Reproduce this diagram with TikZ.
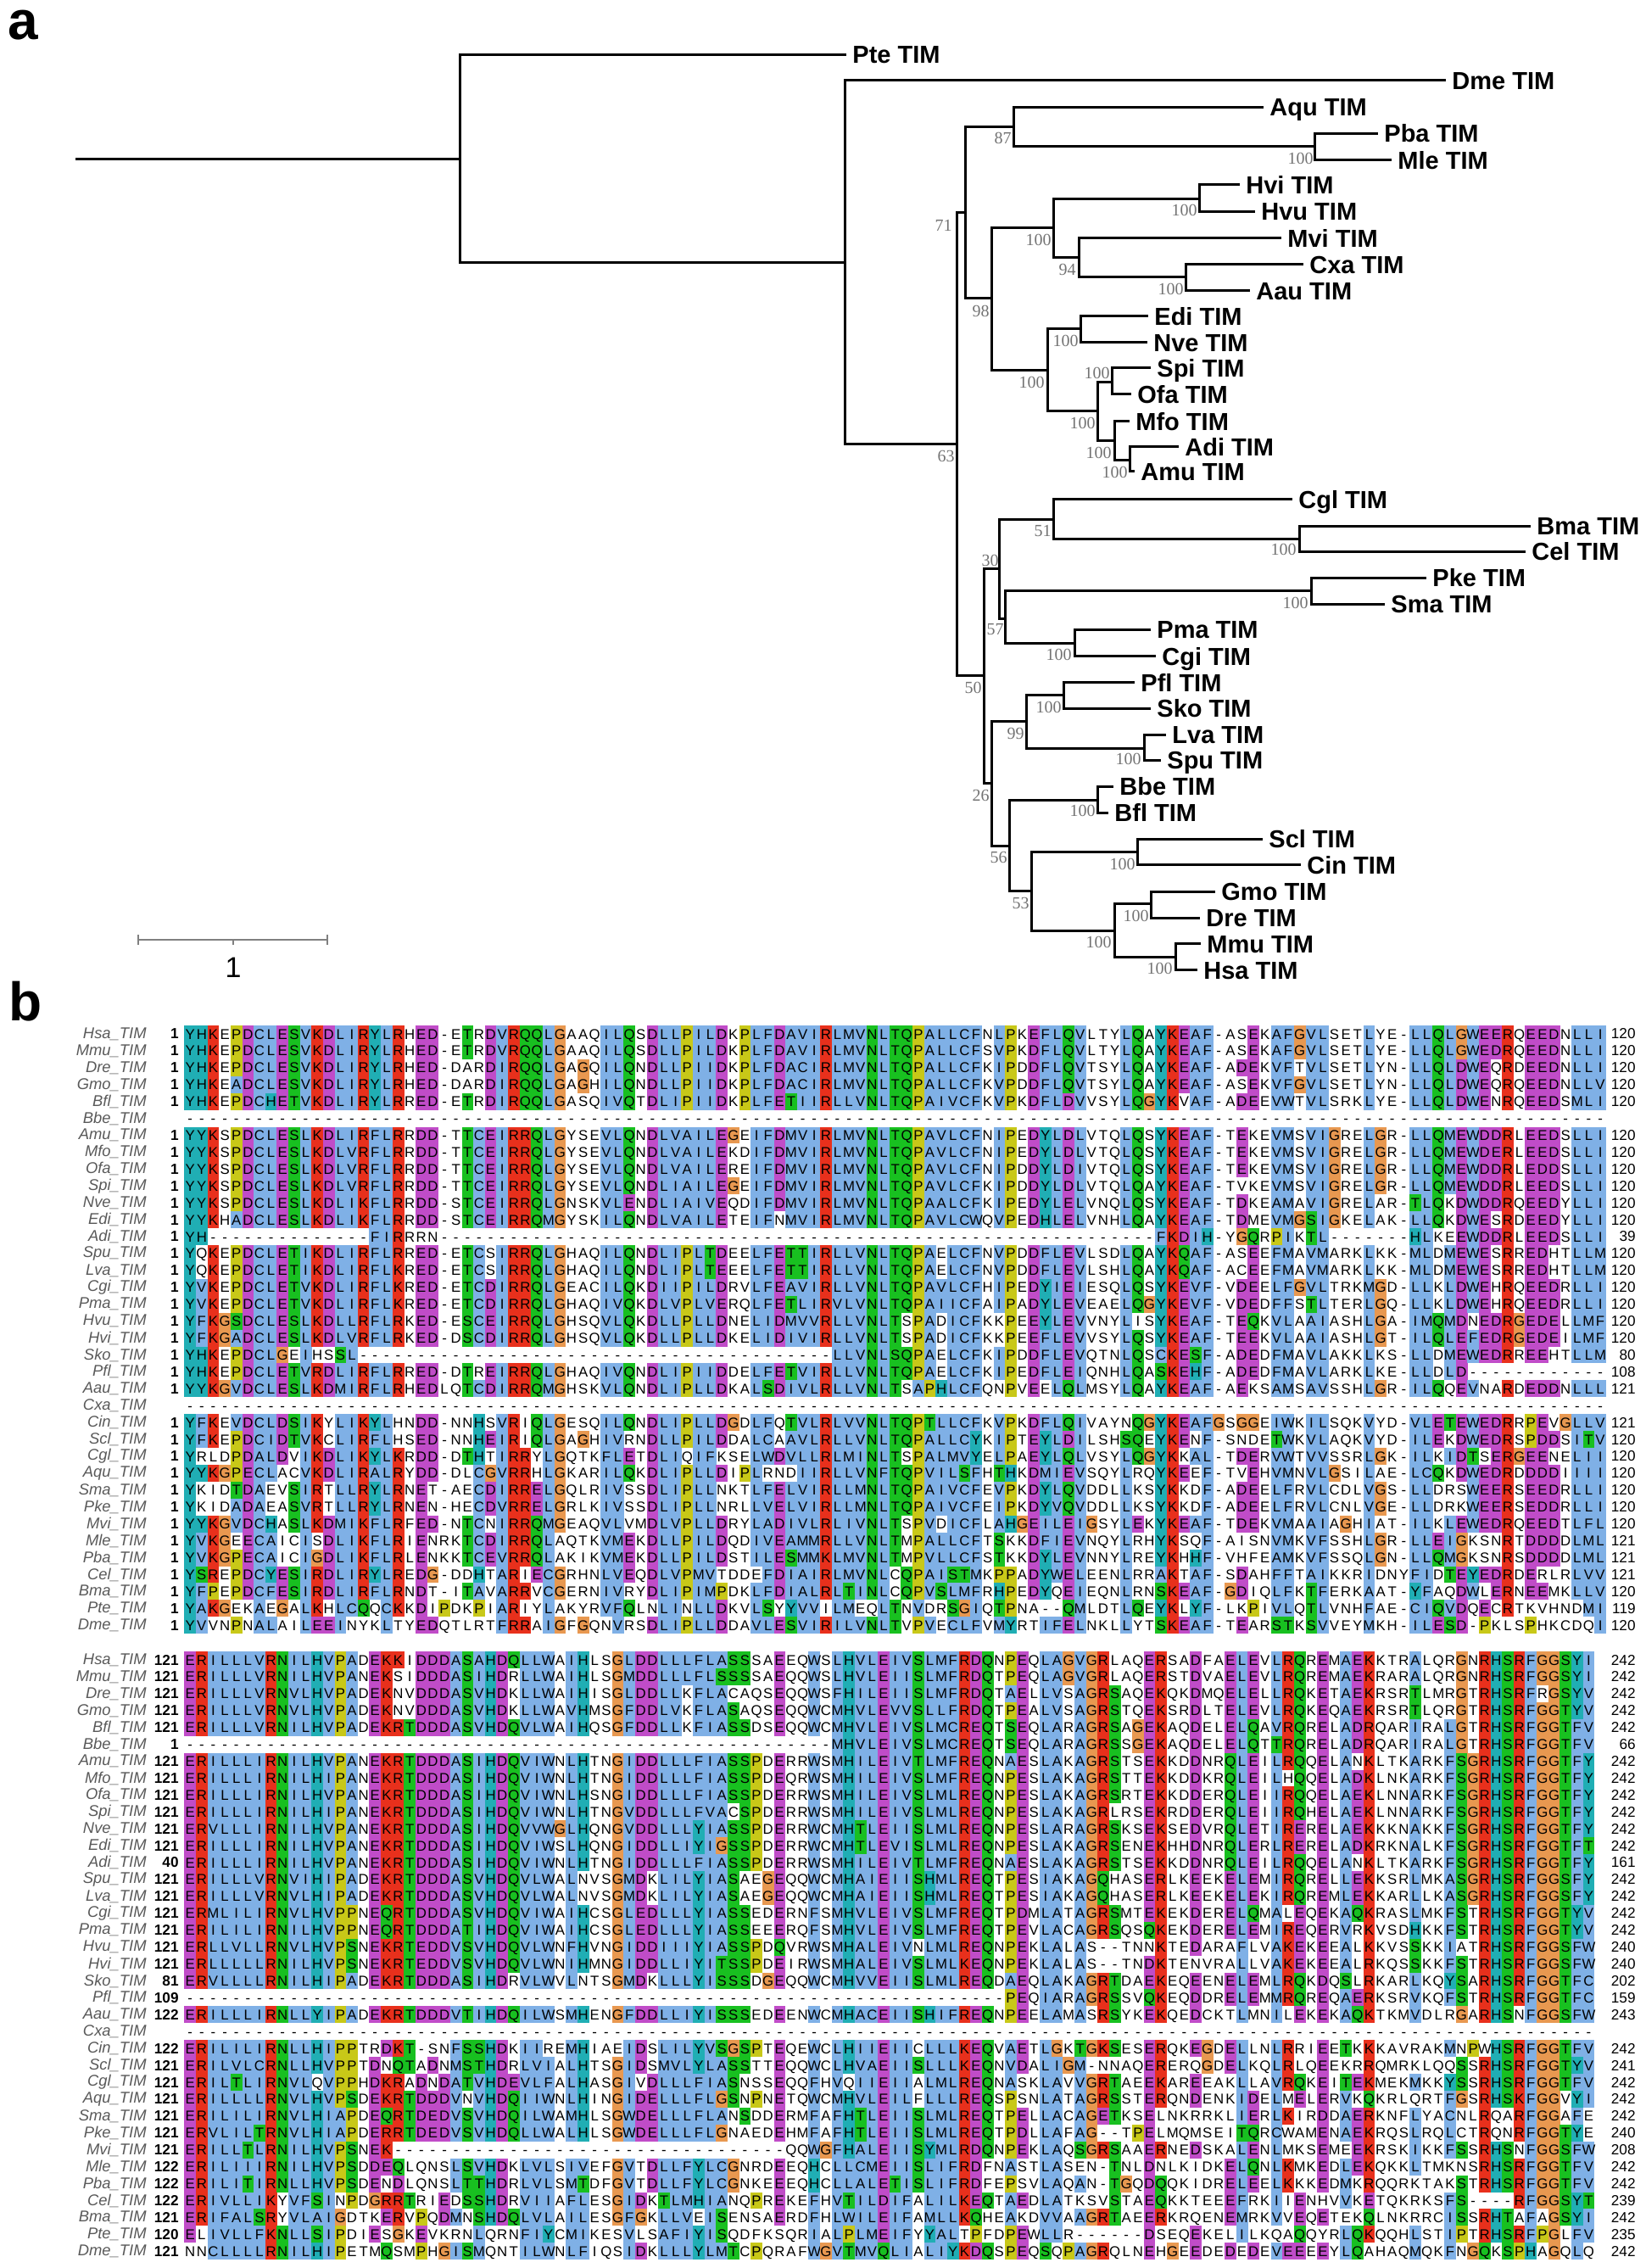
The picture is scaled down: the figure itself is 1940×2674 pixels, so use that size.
\documentclass[tikz,border=0pt]{standalone}
\usepackage{fontspec}
\setmainfont{Liberation Sans}
\newfontfamily\bootfont{Liberation Serif}
\usepackage{xcolor}
\usetikzlibrary{positioning}

\definecolor{aablue}{HTML}{7FB0E6}
\definecolor{aared}{HTML}{E8301C}
\definecolor{aagreen}{HTML}{18C020}
\definecolor{aamagenta}{HTML}{C04CC8}
\definecolor{aaorange}{HTML}{E89850}
\definecolor{aayellow}{HTML}{C8C818}
\definecolor{aacyan}{HTML}{20AEB4}

\tikzset{
  branch/.style={line width=1.5pt,line cap=rect},
  taxon/.style={anchor=west,inner xsep=4.5pt,inner ysep=0pt,text height=10.5pt,text depth=0pt,
    font=\bfseries\fontsize{14.5}{14.5}\selectfont},
  boot/.style={anchor=east,inner sep=0pt,text=black!55,font=\bootfont\fontsize{10}{10}\selectfont},
  panel/.style={anchor=base west,inner sep=0pt,font=\bfseries\fontsize{32}{32}\selectfont},
  scalebar/.style={line width=1pt,black!50},
  seqname/.style={anchor=east,inner sep=0pt,text=black!65,font=\itshape\fontsize{9.2}{9.2}\selectfont},
  seqstart/.style={anchor=east,inner sep=0pt,font=\bfseries\fontsize{8.6}{8.6}\selectfont},
  seqcells/.style={anchor=west,inner sep=0pt,font=\fontsize{8.4}{8.4}\selectfont},
  seqend/.style={anchor=east,inner sep=0pt,font=\fontsize{8.6}{8.6}\selectfont},
}

% column counts for the residue colours
\newcount\colnum
\newcount\rowno
\def\bump#1{\edef\bumpval{\the\numexpr\ifcsname#1\endcsname\csname#1\endcsname\else0\fi+1\relax}%
  \expandafter\xdef\csname#1\endcsname{\bumpval}}
\def\tallystep#1{\ifx#1\relax\else\global\advance\colnum by 1 \bump{\blk\the\colnum#1}\expandafter\tallystep\fi}
\newcommand{\tallyline}[4]{\global\colnum=0 \tallystep#3\relax}
\def\cnt#1{\ifcsname\blk\the\colnum#1\endcsname\csname\blk\the\colnum#1\endcsname\else0\fi}
\def\hyd{\cnt W+\cnt L+\cnt V+\cnt I+\cnt M+\cnt A+\cnt F+\cnt C+\cnt H+\cnt P+\cnt Y}
\def\basic{\cnt K+\cnt R}
\def\paint#1{\def\cellcol{#1}}
\def\hydtest#1{\ifnum\numexpr\hyd\relax>21 \paint{#1}\fi}
\def\kredtest{\ifnum\numexpr\basic\relax>21 \paint{aared}\fi\ifnum\cnt Q>28 \paint{aared}\fi}
\def\etest{\ifnum\numexpr\basic\relax>21 \paint{aamagenta}\fi
  \ifnum\numexpr\cnt Q+\cnt E\relax>18 \paint{aamagenta}\fi
  \ifnum\numexpr\cnt E+\cnt D\relax>18 \paint{aamagenta}\fi}
\def\dtest{\ifnum\numexpr\basic\relax>21 \paint{aamagenta}\fi
  \ifnum\numexpr\cnt E+\cnt D\relax>18 \paint{aamagenta}\fi}
\def\qtest{\ifnum\numexpr\basic\relax>21 \paint{aagreen}\fi
  \ifnum\numexpr\cnt Q+\cnt E\relax>18 \paint{aagreen}\fi
  \ifnum\cnt Q>28 \paint{aagreen}\fi}
\def\tstest{\hydtest{aagreen}\ifnum\numexpr\cnt T+\cnt S\relax>18 \paint{aagreen}\fi}
\def\setaa#1#2{\expandafter\def\csname aa#1\endcsname{#2}}
\setaa{A}{\hydtest{aablue}}\setaa{I}{\hydtest{aablue}}\setaa{L}{\hydtest{aablue}}
\setaa{M}{\hydtest{aablue}}\setaa{F}{\hydtest{aablue}}\setaa{W}{\hydtest{aablue}}
\setaa{V}{\hydtest{aablue}}\setaa{C}{\hydtest{aablue}}
\setaa{K}{\kredtest}\setaa{R}{\kredtest}
\setaa{N}{\ifnum\cnt N>18 \paint{aagreen}\fi}
\setaa{T}{\tstest}\setaa{S}{\tstest}
\setaa{E}{\etest}\setaa{D}{\dtest}\setaa{Q}{\qtest}
\setaa{G}{\paint{aaorange}}\setaa{P}{\paint{aayellow}}
\setaa{H}{\hydtest{aacyan}}\setaa{Y}{\hydtest{aacyan}}

\def\seqcell#1{\def\cellcol{}\csname aa#1\endcsname
  \ifx\cellcol\empty\else\rlap{\color{\cellcol}\rule[-1.98pt]{6.9pt}{9.96pt}}\fi
  \makebox[6.815pt]{#1}}
\def\cellstep#1{\ifx#1\relax\else\global\advance\colnum by 1 \seqcell{#1}\expandafter\cellstep\fi}
\newcommand{\drawcells}[1]{\global\colnum=0 \rule[-1.98pt]{0pt}{9.96pt}\cellstep#1\relax}
\newcommand{\drawline}[4]{%
  \global\advance\rowno by 1
  \pgfmathsetmacro{\rowy}{\blktop+19.92*(\rowno-1)}%
  \node[seqname] (#1\blk lab) at (173,\rowy) {#1\_TIM};
  \node[seqstart] (#1\blk start) at (211,\rowy) {#2};
  \node[seqcells] (#1\blk seq) at (217,\rowy) {\drawcells{#3}};
  \node[seqend] (#1\blk end) at (1929,\rowy) {#4};
}

\newcommand{\blockA}{%
\alnline{Hsa}{1}{YHKEPDCLES VKDLIRYLRH ED-ETRDVRQ QLGAAQILQS DLLPILDKPL FDAVIRLMVN LTQPALLCFN LPKEFLQVLT YLQAYKEAF- ASEKAFGVLS ETLYE-LLQL GWEERQEEDN LLI}{120}
\alnline{Mmu}{1}{YHKEPDCLES VKDLIRYLRH ED-ETRDVRQ QLGAAQILQS DLLPILDKPL FDAVIRLMVN LTQPALLCFS VPKDFLQVLT YLQAYKEAF- ASEKAFGVLS ETLYE-LLQL GWEDRQEEDN LLI}{120}
\alnline{Dre}{1}{YHKEPDCLES VKDLIRYLRH ED-DARDIRQ QLGAGQILQN DLLPIIDKPL FDACIRLMVN LTQPALLCFK IPDDFLQVTS YLQAYKEAF- ADEKVFTVLS ETLYN-LLQL DWEQRDEEDN LLI}{120}
\alnline{Gmo}{1}{YHKEADCLES VKDLIRYLRH ED-DARDIRQ QLGAGHILQN DLLPIIDKPL FDACIRLMVN LTQPALLCFK VPDDFLQVTS YLQAYKEAF- ASEKVFGVLS ETLYN-LLQL DWEQRQEEDN LLV}{120}
\alnline{Bfl}{1}{YHKEPDCHET VKDLIRYLRR ED-ETRDIRQ QLGASQIVQT DLIPIIDKPL FETIIRLLVN LTQPAIVCFK VPKDFLDVVS YLQGYKVAF- ADEEVWTVLS RKLYE-LLQL DWENRQEEDS MLI}{120}
\alnline{Bbe}{}{---------- ---------- ---------- ---------- ---------- ---------- ---------- ---------- ---------- ---------- ---------- ---------- ---}{}
\alnline{Amu}{1}{YYKSPDCLES LKDLIRFLRR DD-TTCEIRR QLGYSEVLQN DLVAILEGEI FDMVIRLMVN LTQPAVLCFN IPEDYLDLVT QLQSYKEAF- TEKEVMSVIG RELGR-LLQM EWDDRLEEDS LLI}{120}
\alnline{Mfo}{1}{YYKSPDCLES LKDLVRFLRR DD-TTCEIRR QLGYSEVLQN DLVAILEKDI FDMVIRLMVN LTQPAVLCFN IPEDYLDLVT QLQSYKEAF- TEKEVMSVIG RELGR-LLQM EWDERLEEDS LLI}{120}
\alnline{Ofa}{1}{YYKSPDCLES LKDLVRFLRR DD-TTCEIRR QLGYSEVLQN DLVAILEREI FDMVIRLMVN LTQPAVLCFN IPDDYLDIVT QLQSYKEAF- TEKEVMSVIG RELGR-LLQM EWDDRLEDDS LLI}{120}
\alnline{Spi}{1}{YYKSPDCLES LKDLVRFLRR DD-TTCEIRR QLGYSEVLQN DLIAILEGEI FDMVIRLMVN LTQPAVLCFK IPDDYLDLVT QLQAYKEAF- TVKEVMSVIG RELGR-LLQM EWDDRLEEDS LLI}{120}
\alnline{Nve}{1}{YYKSPDCLES LKDLIKFLRR DD-STCEIRR QLGNSKVLEN DLIAIVEQDI FDMVIRLMVN LTQPAALCFK IPEDYLELVN QLQSYKEAF- TDKEAMAVIG RELAR-TLQK DWDDRQEEDY LLI}{120}
\alnline{Edi}{1}{YYKHADCLES LKDLIKFLRR DD-STCEIRR QMGYSKILQN DLVAILETEI FNMVIRLMVN LTQPAVLCWQ VPEDHLELVN HLQAYKEAF- TDMEVMGSIG KELAK-LLQK DWESRDEEDY LLI}{120}
\alnline{Adi}{1}{YH-------- ------FIRR RN-------- ---------- ---------- ---------- ---------- ---------- ----FKDIH- YGQRPIKTL- ------HLKE EWDDRLEEDS LLI}{39}
\alnline{Spu}{1}{YQKEPDCLET IKDLIRFLRR ED-ETCSIRR QLGHAQILQN DLIPLTDEEL FETTIRLLVN LTQPAELCFN VPDDFLEVLS DLQAYKQAF- ASEEFMAVMA RKLKK-MLDM EWESRREDHT LLM}{120}
\alnline{Lva}{1}{YQKEPDCLET IKDLIRFLKR ED-ETCSIRR QLGHAQILQN DLIPLTEEEL FETTIRLLVN LTQPAELCFN VPDDFLEVLS HLQAYKQAF- ACEEFMAVMA RKLKK-MLDM EWESRREDHT LLM}{120}
\alnline{Cgi}{1}{YVKEPDCLET VKDLIRFLKR ED-ETCDIRR QLGEACILQK DIIPILDRVL FEAVIRLLVN LTQPAVLCFH IPEDYIEIES QLQSYKEVF- VDEELFGVLT RKMGD-LLKL DWEHRQEEDR LLI}{120}
\alnline{Pma}{1}{YVKEPDCLET VKDLIRFLKR ED-ETCDIRR QLGHAQIVQK DLVPLVERQL FETLIRVLVN LTQPAIICFA IPADYLEVEA ELQGYKEVF- VDEDFFSTLT ERLGQ-LLKL DWEHRQEEDR LLI}{120}
\alnline{Hvu}{1}{YFKGSDCLES LKDLLRFLRK ED-ESCEIRR QLGHSQVLQK DLLPLLDNEL IDMVVRLLVN LTSPADICFK KPEEYLEVVN YLISYKEAF- TEQKVLAAIA SHLGA-IMQM DNEDRGEDEL LMF}{120}
\alnline{Hvi}{1}{YFKGADCLES LKDLVRFLRK ED-DSCDIRR QLGHSQVLQK DLLPLLDKEL IDIVIRLLVN LTSPADICFK KPEEFLEVVS YLQSYKEAF- TEEKVLAAIA SHLGT-ILQL EFEDRGEDEI LMF}{120}
\alnline{Sko}{1}{YHKEPDCLGE IHSSL----- ---------- ---------- ---------- ------LLVN LSQPAELCFK IPDDFLEVQT NLQSCKESF- ADEDFMAVLA KKLKS-LLDM EWEDRREEHT LLM}{80}
\alnline{Pfl}{1}{YHKEPDCLET VRDLIRFLRR ED-DTREIRR QLGHAQIVQN DLIPIIDDEL FETVIRLLVN LTQPAELCFK IPEDFLEIQN HLQASKEHF- ADEDFMAVLA RKLKE-LLDL D--------- ---}{108}
\alnline{Aau}{1}{YYKGVDCLES LKDMIRFLRH EDLQTCDIRR QMGHSKVLQN DLIPLLDKAL SDIVLRLLVN LTSAPHLCFQ NPVEELQLMS YLQAYKEAF- AEKSAMSAVS SHLGR-ILQQ EVNARDEDDN LLL}{121}
\alnline{Cxa}{}{---------- ---------- ---------- ---------- ---------- ---------- ---------- ---------- ---------- ---------- ---------- ---------- ---}{}
\alnline{Cin}{1}{YFKEVDCLDS IKYLIKYLHN DD-NNHSVRI QLGESQILQN DLIPLLDGDL FQTVLRLVVN LTQPTLLCFK VPKDFLQIVA YNQGYKEAFG SGGEIWKILS QKVYD-VLET EWEDRRPEVG LLV}{121}
\alnline{Scl}{1}{YFKEPDCIDT VKCLIRFLHS ED-NNHEIRI QLGAGHIVRN DLLPILDDAL CAAVLRLLVN LTQPALLCYK IPTEYLDILS HSQEYKENF- SNDETWKVLA QKVYD-ILEK DWEDRSPDDS ITV}{120}
\alnline{Cgl}{1}{YRLDPDALDV IKDLIKYLKR DD-DTHTIRR YLGQTKFLET DLIQIFKSEL WDVLLRLMIN LTSPALMVYE LPAEYLQLVS YLQGYKKAL- TDERVWTVVS SRLGK-ILKI DTSERGEENE LII}{120}
\alnline{Aqu}{1}{YYKGPECLAC VKDLIRALRY DD-DLCGVRR HLGKARILQK DLIPLLDIPL RNDIIRLLVN FTQPVILSFH THKDMIEVSQ YLRQYKEEF- TVEHVMNVLG SILAE-LCQK DWEDRDDDDI III}{120}
\alnline{Sma}{1}{YKIDTDAEVS IRTLLRYLRN ET-AECDIRR ELGQLRIVSS DLIPLLNKTL FELVIRLLMN LTQPAIVCFE VPKDYLQVDD LLKSYKKDF- ADEELFRVLC DLVGS-LLDR SWEERSEEDR LLI}{120}
\alnline{Pke}{1}{YKIDADAEAS VRTLLRYLRN EN-HECDVRR ELGRLKIVSS DLIPLLNRLL VELVIRLLMN LTQPAIVCFE IPKDYVQVDD LLKSYKKDF- ADEELFRVLC NLVGE-LLDR KWEERSEDDR LLI}{120}
\alnline{Mvi}{1}{YYKGVDCHAS LKDMIKFLRF ED-NTCNIRR QMGEAQVLVM DLVPLLDRYL ADIVLRLIVN LTSPVDICFL AHGEILEIGS YLEKYKEAF- TDEKVMAAIA GHIAT-ILKL EWEDRQEEDT LFL}{120}
\alnline{Mle}{1}{YVKGEECAIC ISDLIKFLRI ENRKTCDIRR QLAQTKVMEK DLLPILDQDI VEAMMRLLVN LTMPALLCFT SKKDFIEVNQ YLRHYKSQF- AISNVMKVFS SHLGR-LLEI GKSNRTDDDD LML}{121}
\alnline{Pba}{1}{YVKGPECAIC IGDLIKFLRL ENKKTCEVRR QLAKIKVMEK DLLPILDSTI LESMMKLMVN LTMPVLLCFS TKKDYLEVNN YLREYKHHF- VHFEAMKVFS SQLGN-LLQM GKSNRSDDDD LML}{121}
\alnline{Cel}{1}{YSREPDCYES IRDLIRYLRE DG-DDHTARI ECGRHNLVEQ DLVPMVTDDE FDIAIRLMVN LCQPAISTMK PPADYWELEE NLRRAKTAF- SDAHFFTAIK KRIDNYFIDT EYEDRDERLR LVV}{121}
\alnline{Bma}{1}{YFPEPDCFES IRDLIRFLRN DT-ITAVARR VCGERNIVRY DLIPIMPDKL FDIALRLTIN LCQPVSLMFR HPEDYQEIEQ NLRNSKEAF- GDIQLFKTFE RKAAT-YFAQ DWLERNEEMK LLV}{120}
\alnline{Pte}{1}{YAKGEKAEGA LKHLCQQCKK DIPDKPIARI YLAKYRVFQL NLINLLDKVL SYYVVILMEQ LTNVDRSGIQ TPNA--QMLD TLQEYKLYF- LKPIVLQTLV NHFAE-CIQV DQECRTKVHN DMI}{119}
\alnline{Dme}{1}{YVVNPNALAI LEEINYKLTY EDQTLRTFRR AIGFGQNVRS DLIPLLDDAV LESVIRILVN LTVPVECLFV MYRTIFELNK LLYTSKEAF- TEARSTKSVV EYMKH-ILES D-PKLSPHKC DQI}{120}
}

\newcommand{\blockB}{%
\alnline{Hsa}{121}{ERILLLVRNI LHVPADEKKI DDDASAHDQL LWAIHLSGLD DLLLFLASSS AEEQWSLHVL EIVSLMFRDQ NPEQLAGVGR LAQERSADFA ELEVLRQREM AEKKTRALQR GNRHSRFGGS YI}{242}
\alnline{Mmu}{121}{ERILLLVRNI LHVPANEKSI DDDASIHDRL LWAIHLSGMD DLLLFLSSSS AEQQWSLHVL EIISLMFRDQ TPEQLAGVGR LAQERSTDVA ELEVLRQREM AEKRARALQR GNRHSRFGGS YI}{242}
\alnline{Dre}{121}{ERILLLVRNV LHVPADEKNV DDDASVHDKL LWAIHISGLD DLLKFLACAQ SEQQWSFHIL EIISLMFRDQ TAELLVSAGR SAQEKQKDMQ ELELLRQKET AEKRSRTLMR GTRHSRFRGS YV}{242}
\alnline{Gmo}{121}{ERILLLVRNV LHVPADEKNV DDDASVHDKL LWAVHMSGFD DLVKFLASAQ SEQQWCMHVL EVVSLLFRDQ TPEALVSAGR STQEKSRDLT ELEVLRQKEQ AEKRSRTLQR GTRHSRFGGT YV}{242}
\alnline{Bfl}{121}{ERILLLVRNI LHVPADEKRT DDDASVHDQV LWAIHQSGFD DLLKFIASSD SEQQWCMHVL EIVSLMCREQ TSEQLARAGR SAGEKAQDEL ELQAVRQREL ADRQARIRAL GTRHSRFGGT FV}{242}
\alnline{Bbe}{1}{---------- ---------- ---------- ---------- ---------- ------MHVL EIVSLMCREQ TSEQLARAGR SSGEKAQDEL ELQTTRQREL ADRQARIRAL GTRHSRFGGT FV}{66}
\alnline{Amu}{121}{ERILLLIRNI LHVPANEKRT DDDASIHDQV IWNLHTNGID DLLLFIASSP DERRWSMHIL EIVTLMFREQ NAESLAKAGR STSEKKDDNR QLEILRQQEL ANKLTKARKF SGRHSRFGGT FY}{242}
\alnline{Mfo}{121}{ERILLLIRNI LHIPANEKRT DDDASIHDQV IWNLHTNGID DLLLFIASSP DEQRWSMHIL EIVSLMFREQ NPESLAKAGR STTEKKDDKR QLEILHQQEL ADKLNKARKF SGRHSRFGGT FY}{242}
\alnline{Ofa}{121}{ERILLLIRNI LHVPANEKRT DDDASIHDQV IWNLHSNGID DLLLFIASSP DERRWSMHIL EIVSLMLREQ NPESLAKAGR SRTEKKDDER QLEIIRQQEL AEKLNNARKF SGRHSRFGGT FY}{242}
\alnline{Spi}{121}{ERILLLIRNI LHIPANEKRT DDDASIHDQV IWNLHTNGVD DLLLFVACSP DERRWSMHIL EIVSLMLREQ NPESLAKAGR LRSEKRDDER QLEIIRQHEL AEKLNNARKF SGRHSRFGGT FY}{242}
\alnline{Nve}{121}{ERVLLLIRNI LHVPANEKRT DDDASIHDQV VWGLHQNGVD DLLLYIASSP DERRWCMHTL EIISLMLREQ NPESLARAGR SKSEKSEDVR QLETIREREL AEKKKNAKKF SGRHSRFGGT FY}{242}
\alnline{Edi}{121}{ERILLLIRNI LHVPANEKRT DDDASIHDQV IWSLHQNGID DLLIYIGSSP DERRWCMHTL EVISLMLREQ NPESLAKAGR SENEKHHDNR QLERLREREL ADKRKNALKF SGRHSRFGGT FT}{242}
\alnline{Adi}{40}{ERILLLIRNI LHVPANEKRT DDDASIHDQV IWNLHTNGID DLLLFIASSP DERRWSMHIL EIVTLMFREQ NAESLAKAGR STSEKKDDNR QLEILRQQEL ANKLTKARKF SGRHSRFGGT FY}{161}
\alnline{Spu}{121}{ERILLLVRNV IHIPADEKRT DDDASVHDQV LWALNVSGMD KLILYIASAE GEQQWCMHAI EIISHMLREQ TPESIAKAGQ HASERLKEEK ELEMIRQREL LEKKSRLMKA SGRHSRFGGS FY}{242}
\alnline{Lva}{121}{ERILLLVRNV LHIPADEKRT DDDASVHDQV LWALNVSGMD KLILYIASAE GEQQWCMHAI EIISHMLREQ TPESIAKAGQ HASERLKEEK ELEKIRQREM LEKKARLLKA SGRHSRFGGS FY}{242}
\alnline{Cgi}{121}{ERMLILIRNV LHVPPNEQRT DDDASVHDQV IWAIHCSGLE DLLLYIASSE DERNFSMHVL EIVSLMFREQ TPDMLATAGR SMTEKEKDER ELQMALEQEK AQKRASLMKF STRHSRFGGT YV}{242}
\alnline{Pma}{121}{ERILILIRNI LHVPPNEQRT DDDATIHDQV IWAIHCSGLE DLLLYIASSE EERQFSMHVL EIVSLMFREQ TPEVLACAGR SQSQKEKDER ELEMIREQER VRKVSDHKKF STRHSRFGGT YV}{242}
\alnline{Hvu}{121}{ERLLVLLRNV LHVPSNEKRT EDDVSVHDQV LWNFHVNGID DIIIYIASSP DQVRWSMHAL EIVNLMLREQ NPEKLALAS- -TNNKTEDAR AFLVAKEKEE ALKKVSSKKI ATRHSRFGGS FW}{240}
\alnline{Hvi}{121}{ERLLLLLRNI LHVPSNEKRT EDDVSVHDQV LWNIHMNGID DLLIYITSSP DEIRWSMHAL EIVSLMLKEQ NPEKLALAS- -TNDKTENVR ALLVAKEKEE ALRKQSSKKF STRHSRFGGS FW}{240}
\alnline{Sko}{81}{ERVLLLLRNI LHIPADEKRT DDDASIHDRV LWVLNTSGMD KLLLYISSSD GEQQWCMHVV EIISLMLREQ DAEQLAKAGR TDAEKEQEEN ELEMLRQKDQ SLRKARLKQY SARHSRFGGT FC}{202}
\alnline{Pfl}{109}{---------- ---------- ---------- ---------- ---------- ---------- ---------- -PEQIARAGR SSVQKEQDDR ELEMMRQREQ AERKSRVKQF STRHSRFGGT FC}{159}
\alnline{Aau}{122}{ERILLLIRNL LYIPADEKRT DDDVTIHDQI LWSMHENGFD DLLIYISSSE DEENWCMHAC EIISHIFREQ NPEELAMASR SYKEKQEDCK TLMNILEKEK AQKTKMVDLR GARHSNFGGS FW}{243}
\alnline{Cxa}{}{---------- ---------- ---------- ---------- ---------- ---------- ---------- ---------- ---------- ---------- ---------- ---------- --}{}
\alnline{Cin}{122}{ERILILIRNL LHIPPTRDKT -SNFSSHDKI IREMHIAEID SLILYVSGSP TEQEWCLHII EIICLLLKEQ VAETLGKTGK SESERQKEGD ELLNLRRIEE TKKKAVRAKM NPWHSRFGGT FV}{242}
\alnline{Scl}{121}{ERILVLCRNL LHVPPTDNQT ADNMSTHDRL VIALHTSGID SMVLYLASST TEQQWCLHVA EIISLLLKEQ NVDALIGM-N NAQERERQGD ELKQLRLQEE KRRQMRKLQQ SSRHSRFGGT YV}{241}
\alnline{Cgl}{121}{ERILTLIRNV LQVPPHDKRA DNDATVHDEV LFALHASGIV DLLLFIASNS SEQQFHVQII EIIALMLREQ NASKLAVVGR TAEEKAREEA KLLAVRQKEI TEKMEKMKKY SSRHSRFGGT FV}{242}
\alnline{Aqu}{121}{ERILLLLRNV LHVPSDEKRT DDDVNVHDQI IWNLHINGID ELLLFLGSNP NETQWCMHVL EILFLLLREQ SPSNLATAGR SSTERQNDEN KIDELMELER VKQKRLQRTF GSRHSKFGGV YI}{242}
\alnline{Sma}{121}{ERILILIRNV LHIAPDEQRT DEDVSVHDQI LWAMHLSGWD ELLLFLANSD DERMFAFHTL EIISLMLREQ TPELLACAGE TKSELNKRRK LIERLKIRDD AERKNFLYAC NLRQARFGGA FE}{242}
\alnline{Pke}{121}{ERVLILTRNV LHIAPDERRT DEDVSVHDQL LWALHLSGWD ELLLFLGNAE DEHMFAFHTL EIISLMLREQ TPDLLAFAG- -TPELMQMSE ITQRCWAMEN AEKRQSLRQL CTRQNRFGGT YE}{240}
\alnline{Mvi}{121}{ERILLTLRNI LHVPSNEK-- ---------- ---------- ---------- --QQWGFHAL EIISYMLRDQ NPEKLAQSGR SAAERNEDSK ALENLMKSEM EEKRSKIKKF SSRHSNFGGS FW}{208}
\alnline{Mle}{122}{ERILIIIRNI LHVPSDDEQL QNSLSVHDKL VLSIVEFGVT DLLFYLCGNR DEEQHCLLCM EIISLIFRDF NASTLASEN- TNLDNLKIDK ELQNLKMKED LEKQKKLTMK NSRHSRFGGT FV}{242}
\alnline{Pba}{122}{ERILITIRNL LHVPSDENDL QNSLTTHDRL VLSMTDFGVT DLLFYLCGNK EEEQHCLLAL ETISLIFRDF EPSVLAQAN- TGQDQQKIDR ELEELKKKED MKRQQRKTAK STRHSRFGGT FV}{242}
\alnline{Cel}{122}{ERIVLLIKYV FSINPDGRRT RIEDSSHDRV IIAFLESGID KTLMHIANQP REKEFHVTIL DIFALILKEQ TAEDLATKSV STAEQKKTEE EFRKIIENHV VKETQKRKSF S----RFGGS YT}{239}
\alnline{Bma}{121}{ERIFALSRYV LAIGDTKERV PQDMNSHDQL VLAILESGFG KLLVEISENS AERDFHLWIL EIFAMLLKQH EAKDVVAAGR TAEERKRQEN EMRKVVEQET EKQLNKRRCI SSRHTAFAGS YI}{242}
\alnline{Pte}{120}{ELIVLLFKNL LSIPDIESGK EVKRNLQRNF IYCMIKESVL SAFIYISQDF KSQRIALPLM EIFYYALTPF DPEWLLR--- ---DSEQEKE LILKQAQQYR LQKQQHLSTI PTRHSRFPGL FV}{235}
\alnline{Dme}{121}{NNCLLLLRNI LHIPETMQSM PHGISMQNTI LWNLFIQSID KLLLYLMTCP QRAFWGVTMV QLIALIYKDQ SPEQSQPAGR QLNEHGEEDE DEDEVEEEEY LQAHAQMQKF NGQKSPHAGQ LQ}{242}
}

\let\alnline\tallyline
\def\blk{A}\blockA
\def\blk{B}\blockB

\begin{document}
\begin{tikzpicture}[x=0.5pt,y=-0.5pt]
\useasboundingbox (0,0) rectangle (1940,2674);

\node[panel] (panela) at (9,47) {a};
\node[panel] (panelb) at (10,1203) {b};

% tree
\coordinate (rootend) at (90,188);
\coordinate (r) at (542,188);
\foreach \cname/\cx/\cy in {c1/996/310,c2/1128/524,c3/1138/251,c4/1195/149.5,c5/1550/173,
  c6/1169/352,c7/1242/269,c8/1414/235,c9/1272/304,c10/1398/327,c11/1235/437,c12/1274/388,
  c13/1294/485,c14/1311/451,c15/1314/520,c16/1332/542.5,c17/1160/796,c18/1178/670,c19/1242/612,
  c20/1532/635,c21/1185/729,c22/1546/696,c23/1267/758,c24/1169/923,c25/1210/850,c26/1254/819,
  c27/1349/882,c28/1190/997,c29/1294/943.6,c30/1216/1050.7,c31/1341/1004.6,c32/1314/1097,
  c33/1357/1065.7,c34/1386/1128}
  \coordinate (\cname) at (\cx,\cy);

\foreach \tname/\tx/\ty in {Pte/996/64.5,Dme/1703/95,Aqu/1488/126.5,Pba/1623/157.4,Mle/1639/188.6,
  Hvi/1460/218,Hvu/1478/249.5,Mvi/1509/281,Cxa/1535/311.6,Aau/1472/343,Edi/1352/373,Nve/1351/404,
  Spi/1355/434,Ofa/1332/465,Mfo/1330/497,Adi/1388/527,Amu/1336/556,Cgl/1522/588.5,Bma/1803/620,
  Cel/1797/650.5,Pke/1680/681.4,Sma/1631/712,Pma/1355/742,Cgi/1361/773.6,Pfl/1336/804.6,Sko/1355/835,
  Lva/1373/866,Spu/1367/896.4,Bbe/1311/927,Bfl/1305/958,Scl/1487/989,Cin/1532/1019.6,Gmo/1431/1051,
  Dre/1413/1082,Mmu/1414/1112.5,Hsa/1410/1143.6}
  \node[taxon] (\tname) at (\tx,\ty) {\tname\ TIM};

\draw[branch] (rootend) -- (r);
\foreach \pa/\ch in {r/Pte.west,r/c1,c1/Dme.west,c1/c2,c2/c3,c2/c17,c3/c4,c3/c6,c4/Aqu.west,c4/c5,
  c5/Pba.west,c5/Mle.west,c6/c7,c6/c11,c7/c8,c7/c9,c8/Hvi.west,c8/Hvu.west,c9/Mvi.west,c9/c10,
  c10/Cxa.west,c10/Aau.west,c11/c12,c11/c13,c12/Edi.west,c12/Nve.west,c13/c14,c13/c15,c14/Spi.west,
  c14/Ofa.west,c15/Mfo.west,c15/c16,c16/Adi.west,c16/Amu.west,c17/c18,c17/c24,c18/c19,c18/c21,
  c19/Cgl.west,c19/c20,c20/Bma.west,c20/Cel.west,c21/c22,c21/c23,c22/Pke.west,c22/Sma.west,
  c23/Pma.west,c23/Cgi.west,c24/c25,c24/c28,c25/c26,c25/c27,c26/Pfl.west,c26/Sko.west,c27/Lva.west,
  c27/Spu.west,c28/c29,c28/c30,c29/Bbe.west,c29/Bfl.west,c30/c31,c30/c32,c31/Scl.west,c31/Cin.west,
  c32/c33,c32/c34,c33/Gmo.west,c33/Dre.west,c34/Mmu.west,c34/Hsa.west}
  \draw[branch] (\pa) |- (\ch);

% bootstrap values
\foreach \bx/\by/\bt [count=\bi] in {1126/538/63,1123/266/71,1193/163/87,1549/187/100,1167/367/98,
  1240/283/100,1412/248/100,1269/318/94,1396/341/100,1232/451/100,1272/402/100,1292/499/100,
  1309/440/100,1311/534/100,1330/557/100,1158/811/50,1178/661/30,1240/626/51,1529/648/100,
  1184/742/57,1543/711/100,1264/772/100,1167/938/26,1208/865/99,1252/834/100,1346/895/100,
  1188/1011/56,1292/956/100,1214/1065/53,1339/1018.6/100,1311/1111/100,1355/1080/100,1383/1142/100}
  \node[boot] (boot\bi) at (\bx,\by) {\bt};

% scale bar
\coordinate (sbl) at (163,1108);
\coordinate (sbm) at (275,1108);
\coordinate (sbr) at (386,1108);
\draw[scalebar] (sbl) -- (sbr);
\draw[scalebar] (sbl) ++(0,-6) -- ++(0,12);
\draw[scalebar] (sbr) ++(0,-6) -- ++(0,12);
\draw[scalebar] (sbm) -- ++(0,6);
\node[font=\fontsize{17}{17}\selectfont,inner sep=0pt] (sblabel) at (275,1141) {1};

% alignment
\let\alnline\drawline
\def\blk{A}\def\blktop{1219}\global\rowno=0
\blockA
\def\blk{B}\def\blktop{1957}\global\rowno=0
\blockB
\end{tikzpicture}
\end{document}
